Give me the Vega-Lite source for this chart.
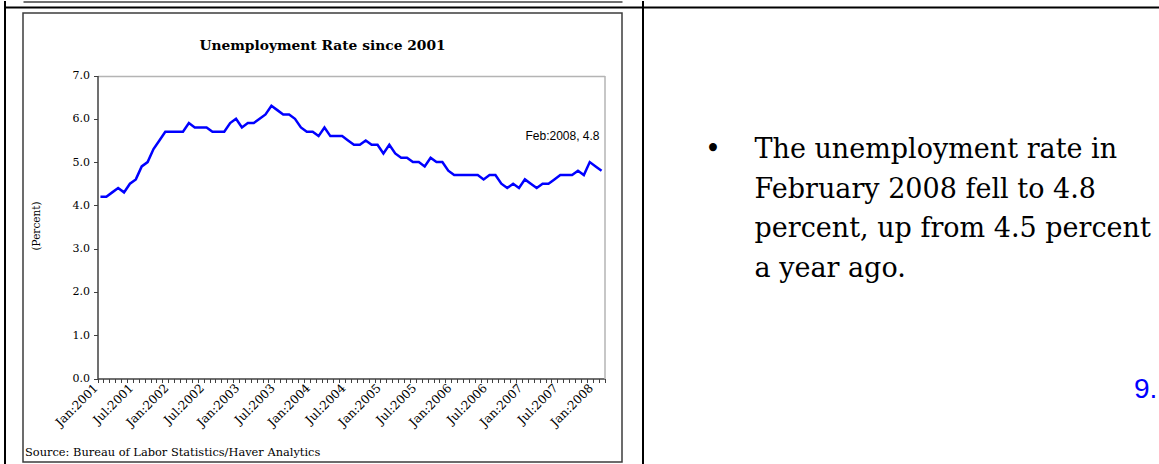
{
  "$schema": "https://vega.github.io/schema/vega-lite/v6.json",
  "background": "white",
  "padding": {"left": 3, "top": 0, "right": 0, "bottom": 0},
  "bounds": "flush",
  "spacing": 20.5,
  "config": {"view": {"stroke": null}},
  "datasets": {
    "unemp": [
      {"month": "Jan:2001", "rate": 4.2}, {"month": "Feb:2001", "rate": 4.2}, {"month": "Mar:2001", "rate": 4.3}, {"month": "Apr:2001", "rate": 4.4},
      {"month": "May:2001", "rate": 4.3}, {"month": "Jun:2001", "rate": 4.5}, {"month": "Jul:2001", "rate": 4.6}, {"month": "Aug:2001", "rate": 4.9},
      {"month": "Sep:2001", "rate": 5.0}, {"month": "Oct:2001", "rate": 5.3}, {"month": "Nov:2001", "rate": 5.5}, {"month": "Dec:2001", "rate": 5.7},
      {"month": "Jan:2002", "rate": 5.7}, {"month": "Feb:2002", "rate": 5.7}, {"month": "Mar:2002", "rate": 5.7}, {"month": "Apr:2002", "rate": 5.9},
      {"month": "May:2002", "rate": 5.8}, {"month": "Jun:2002", "rate": 5.8}, {"month": "Jul:2002", "rate": 5.8}, {"month": "Aug:2002", "rate": 5.7},
      {"month": "Sep:2002", "rate": 5.7}, {"month": "Oct:2002", "rate": 5.7}, {"month": "Nov:2002", "rate": 5.9}, {"month": "Dec:2002", "rate": 6.0},
      {"month": "Jan:2003", "rate": 5.8}, {"month": "Feb:2003", "rate": 5.9}, {"month": "Mar:2003", "rate": 5.9}, {"month": "Apr:2003", "rate": 6.0},
      {"month": "May:2003", "rate": 6.1}, {"month": "Jun:2003", "rate": 6.3}, {"month": "Jul:2003", "rate": 6.2}, {"month": "Aug:2003", "rate": 6.1},
      {"month": "Sep:2003", "rate": 6.1}, {"month": "Oct:2003", "rate": 6.0}, {"month": "Nov:2003", "rate": 5.8}, {"month": "Dec:2003", "rate": 5.7},
      {"month": "Jan:2004", "rate": 5.7}, {"month": "Feb:2004", "rate": 5.6}, {"month": "Mar:2004", "rate": 5.8}, {"month": "Apr:2004", "rate": 5.6},
      {"month": "May:2004", "rate": 5.6}, {"month": "Jun:2004", "rate": 5.6}, {"month": "Jul:2004", "rate": 5.5}, {"month": "Aug:2004", "rate": 5.4},
      {"month": "Sep:2004", "rate": 5.4}, {"month": "Oct:2004", "rate": 5.5}, {"month": "Nov:2004", "rate": 5.4}, {"month": "Dec:2004", "rate": 5.4},
      {"month": "Jan:2005", "rate": 5.2}, {"month": "Feb:2005", "rate": 5.4}, {"month": "Mar:2005", "rate": 5.2}, {"month": "Apr:2005", "rate": 5.1},
      {"month": "May:2005", "rate": 5.1}, {"month": "Jun:2005", "rate": 5.0}, {"month": "Jul:2005", "rate": 5.0}, {"month": "Aug:2005", "rate": 4.9},
      {"month": "Sep:2005", "rate": 5.1}, {"month": "Oct:2005", "rate": 5.0}, {"month": "Nov:2005", "rate": 5.0}, {"month": "Dec:2005", "rate": 4.8},
      {"month": "Jan:2006", "rate": 4.7}, {"month": "Feb:2006", "rate": 4.7}, {"month": "Mar:2006", "rate": 4.7}, {"month": "Apr:2006", "rate": 4.7},
      {"month": "May:2006", "rate": 4.7}, {"month": "Jun:2006", "rate": 4.6}, {"month": "Jul:2006", "rate": 4.7}, {"month": "Aug:2006", "rate": 4.7},
      {"month": "Sep:2006", "rate": 4.5}, {"month": "Oct:2006", "rate": 4.4}, {"month": "Nov:2006", "rate": 4.5}, {"month": "Dec:2006", "rate": 4.4},
      {"month": "Jan:2007", "rate": 4.6}, {"month": "Feb:2007", "rate": 4.5}, {"month": "Mar:2007", "rate": 4.4}, {"month": "Apr:2007", "rate": 4.5},
      {"month": "May:2007", "rate": 4.5}, {"month": "Jun:2007", "rate": 4.6}, {"month": "Jul:2007", "rate": 4.7}, {"month": "Aug:2007", "rate": 4.7},
      {"month": "Sep:2007", "rate": 4.7}, {"month": "Oct:2007", "rate": 4.8}, {"month": "Nov:2007", "rate": 4.7}, {"month": "Dec:2007", "rate": 5.0},
      {"month": "Jan:2008", "rate": 4.9}, {"month": "Feb:2008", "rate": 4.8}
    ]
  },
  "hconcat": [
    {
      "width": 599,
      "height": 449,
      "view": {"stroke": "#3c3c3c", "strokeWidth": 1.5},
      "title": {
        "text": "Unemployment Rate since 2001",
        "anchor": "middle", "frame": "group", "orient": "top",
        "offset": -62, "baseline": "alphabetic",
        "font": "DejaVu Serif", "fontSize": 13.8, "fontWeight": "bold", "color": "black"
      },
      "data": {"name": "unemp"},
      "resolve": {
        "scale": {"x": "independent", "y": "independent"},
        "axis": {"x": "independent", "y": "independent"}
      },
      "layer": [
        {
          "layer": [
            {
              "mark": {"type": "line", "color": "#0000ff", "strokeWidth": 2.5},
              "encoding": {
                "x": {
                  "field": "month", "type": "ordinal", "sort": null, "bandPosition": 0.5,
                  "scale": {"type": "band", "paddingInner": 0, "paddingOuter": 0, "range": [74.5, 581.5]},
                  "axis": {
                    "orient": "bottom", "offset": -83.5, "tickBand": "extent",
                    "labelExpr": "slice(datum.label, 0, 3) === 'Jan' || slice(datum.label, 0, 3) === 'Jul' ? datum.label : ''",
                    "labelAngle": -45, "labelAlign": "right", "labelBaseline": "middle",
                    "labelFont": "DejaVu Serif", "labelFontSize": 12, "labelColor": "black",
                    "labelPadding": 3, "labelOffset": -5, "labelOverlap": false, "labelBound": false, "labelFlush": false,
                    "tickSize": 4, "tickColor": "#404040", "tickWidth": 1,
                    "domainColor": "#404040", "domainWidth": 1.5, "grid": false,
                    "title": "Source: Bureau of Labor Statistics/Haver Analytics",
                    "titleFont": "DejaVu Serif", "titleFontSize": 11.4, "titleFontWeight": "normal", "titleColor": "black",
                    "titleAlign": "left", "titleAnchor": "start", "titleBaseline": "alphabetic",
                    "titleX": 1.5, "titleY": 77
                  }
                },
                "y": {
                  "field": "rate", "type": "quantitative",
                  "scale": {"domain": [0, 7], "range": [365.5, 62.5], "nice": false},
                  "axis": {
                    "orient": "left", "offset": -74.5,
                    "values": [0, 1, 2, 3, 4, 5, 6, 7], "format": ".1f",
                    "labelFont": "DejaVu Serif", "labelFontSize": 11, "labelColor": "black", "labelPadding": 4,
                    "tickSize": 4, "tickColor": "#404040", "domainColor": "#404040", "domainWidth": 1.5,
                    "grid": true, "gridWidth": 1.5,
                    "gridColor": {"condition": {"test": "datum.value === 7", "value": "#b4b4b4"}, "value": "transparent"},
                    "title": "(Percent)",
                    "titleFont": "DejaVu Serif", "titleFontSize": 10.5, "titleFontWeight": "normal", "titleColor": "black",
                    "titleAngle": -90, "titleAlign": "center", "titleBaseline": "middle",
                    "titleX": -61, "titleY": 212.5
                  }
                }
              }
            },
            {
              "transform": [
                {"filter": "datum.month === 'Feb:2008'"},
                {"calculate": "datum.month + ', ' + format(datum.rate, '.1f')", "as": "label"}
              ],
              "mark": {"type": "text", "align": "right", "baseline": "alphabetic", "dx": -2, "dy": -31, "font": "Liberation Sans", "fontSize": 12, "color": "black"},
              "encoding": {
                "x": {"field": "month", "type": "ordinal", "sort": null, "bandPosition": 0.5},
                "y": {"field": "rate", "type": "quantitative"},
                "text": {"field": "label"}
              }
            }
          ]
        },
        {
          "mark": {"type": "point", "opacity": 0},
          "encoding": {
            "x": {
              "field": "month", "type": "ordinal", "sort": null,
              "scale": {"type": "point", "range": [0, 599]},
              "axis": {"orient": "top", "offset": 11.5, "domainColor": "#404040", "domainWidth": 1.5, "ticks": false, "labels": false, "grid": false, "title": null}
            },
            "y": {
              "field": "rate", "type": "quantitative",
              "scale": {"domain": [0, 7], "range": [365.5, 62.5], "nice": false},
              "axis": {"orient": "right", "offset": -17.5, "domainColor": "#b4b4b4", "domainWidth": 1.5, "ticks": false, "labels": false, "grid": false, "title": null}
            }
          }
        },
        {
          "mark": {"type": "point", "opacity": 0},
          "encoding": {
            "x": {
              "field": "month", "type": "ordinal", "sort": null,
              "scale": {"type": "point", "range": [-18.5, 619.5]},
              "axis": {"orient": "top", "offset": 6, "domainColor": "black", "domainWidth": 2, "ticks": false, "labels": false, "grid": false, "title": null}
            },
            "y": {
              "field": "rate", "type": "quantitative",
              "scale": {"domain": [0, 7], "range": [451, -12.5], "nice": false},
              "axis": {"orient": "left", "offset": 18.5, "domainColor": "black", "domainWidth": 2, "ticks": false, "labels": false, "grid": false, "title": null}
            }
          }
        }
      ]
    },
    {
      "width": 517,
      "height": 449,
      "view": {"stroke": null},
      "title": {
        "text": ["The unemployment rate in", "February 2008 fell to 4.8", "percent, up from 4.5 percent", "a year ago."],
        "anchor": "start", "frame": "group", "orient": "top",
        "offset": -276, "dx": 112, "baseline": "top", "lineHeight": 39.7,
        "font": "DejaVu Serif", "fontSize": 27, "fontWeight": "normal", "color": "black"
      },
      "data": {"name": "unemp"},
      "mark": {"type": "point", "opacity": 0},
      "encoding": {
        "x": {
          "field": "month", "type": "ordinal", "sort": null,
          "scale": {"type": "point", "range": [0, 517]},
          "axis": {
            "orient": "top", "offset": 6, "domainColor": "black", "domainWidth": 2, "ticks": false, "labels": false, "grid": false,
            "title": "•", "titleFont": "DejaVu Serif", "titleFontSize": 27, "titleFontWeight": "normal", "titleColor": "black",
            "titleAlign": "center", "titleBaseline": "middle", "titleX": 70, "titleY": 142.5
          }
        },
        "y": {
          "field": "rate", "type": "quantitative",
          "scale": {"domain": [0, 7], "range": [451, -12.5], "nice": false},
          "axis": {
            "orient": "left", "offset": 0, "domainColor": "black", "domainWidth": 2, "ticks": false, "labels": false, "grid": false,
            "title": "9.", "titleFont": "Liberation Sans", "titleFontSize": 28, "titleFontWeight": "normal", "titleColor": "#0000ff",
            "titleAngle": 0, "titleAlign": "left", "titleBaseline": "alphabetic", "titleX": 491, "titleY": 384.5
          }
        }
      }
    }
  ]
}
